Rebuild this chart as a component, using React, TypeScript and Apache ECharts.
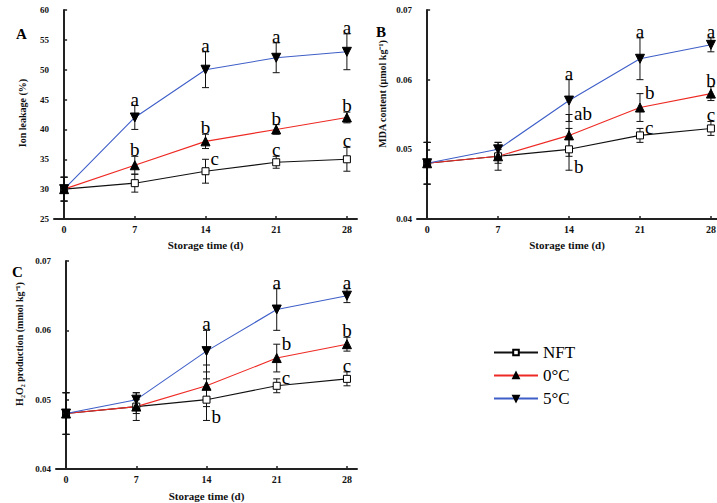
import React, { useEffect, useRef } from "react";
import * as echarts from "echarts";

const days = [0, 7, 14, 21, 28];

// Panel A: Ion leakage (%)
const ionNFT = [30, 31, 33, 34.5, 35];
const ionNFTErr = [2, 1.5, 2, 1, 2];
const ion0 = [30, 34, 38, 40, 42];
const ion0Err = [2, 1.5, 1.2, 0.8, 0.9];
const ion5 = [30, 42, 50, 52, 53];
const ion5Err = [2, 2, 3, 2.5, 3];
const ionLetNFT = ["", "", "c", "c", "c"];
const ionLet0 = ["", "b", "b", "b", "b"];
const ionLet5 = ["", "a", "a", "a", "a"];

// Panel B: MDA content
const mdaNFT = [0.048, 0.049, 0.05, 0.052, 0.053];
const mdaNFTErr = [0.003, 0.002, 0.003, 0.001, 0.001];
const mda0 = [0.048, 0.049, 0.052, 0.056, 0.058];
const mda0Err = [0.003, 0.001, 0.003, 0.002, 0.001];
const mda5 = [0.048, 0.05, 0.057, 0.063, 0.065];
const mda5Err = [0.003, 0.001, 0.003, 0.003, 0.001];
const mdaLetNFT = ["", "", "b", "c", "c"];
const mdaLet0 = ["", "", "ab", "b", "b"];
const mdaLet5 = ["", "", "a", "a", "a"];

// Panel C: H2O2 production
const h2o2NFT = [0.048, 0.049, 0.05, 0.052, 0.053];
const h2o2NFTErr = [0.003, 0.002, 0.003, 0.001, 0.001];
const h2o20 = [0.048, 0.049, 0.052, 0.056, 0.058];
const h2o20Err = [0.003, 0.001, 0.003, 0.002, 0.001];
const h2o25 = [0.048, 0.05, 0.057, 0.063, 0.065];
const h2o25Err = [0.003, 0.001, 0.003, 0.003, 0.001];
const h2o2LetNFT = ["", "", "b", "c", "c"];
const h2o2Let0 = ["", "", "", "b", "b"];
const h2o2Let5 = ["", "", "a", "a", "a"];

const xTicks = [0, 7, 14, 21, 28];
const seriesNames = ["NFT", "0°C", "5°C"];

// letter placement (style): top / rt = right at top cap / rb = right near bottom cap
const sideA_NFT = ["top", "top", "rt", "top", "top"];
const sideAll = ["top", "top", "top", "top", "top"];
const sideB_NFT = ["top", "top", "rb", "rt", "top"];
const sideB_0 = ["top", "top", "rt", "rt", "top"];

const SERIF = "Liberation Serif";

function errRender(letters: string[], sides: string[]) {
  return (params: any, api: any) => {
    const i = params.dataIndex;
    const x = api.value(0);
    const y = api.value(1);
    const e = api.value(2);
    const p = api.coord([x, y]);
    const t = api.coord([x, y + e]);
    const b = api.coord([x, y - e]);
    const cap = 3.5;
    const st = { stroke: "#111", lineWidth: 1 };
    const children: any[] = [
      { type: "line", shape: { x1: p[0], y1: t[1], x2: p[0], y2: b[1] }, style: st },
      { type: "line", shape: { x1: p[0] - cap, y1: t[1], x2: p[0] + cap, y2: t[1] }, style: st },
      { type: "line", shape: { x1: p[0] - cap, y1: b[1], x2: p[0] + cap, y2: b[1] }, style: st },
    ];
    const txt = letters[i];
    if (txt) {
      const side = sides[i];
      let tx = p[0];
      let ty = t[1] + 3;
      let align = "center";
      let va = "bottom";
      if (side === "rt") {
        tx = p[0] + 5;
        ty = t[1] - 1;
        align = "left";
        va = "middle";
      } else if (side === "rb") {
        tx = p[0] + 5;
        ty = b[1] - 4;
        align = "left";
        va = "middle";
      }
      children.push({
        type: "text",
        x: tx,
        y: ty,
        style: {
          text: txt,
          align,
          verticalAlign: va,
          fontSize: 19,
          fontFamily: SERIF,
          fill: "#000",
        },
      });
    }
    return { type: "group", children };
  };
}

const lineStyles = [
  { color: "#111", symbol: "rect", size: 7, rotate: 0, fill: "#fff" },
  { color: "#ee2a24", symbol: "triangle", size: 9, rotate: 0, fill: "#000" },
  { color: "#3f5fc8", symbol: "triangle", size: 9, rotate: 180, fill: "#000" },
];

function panelSeries(
  idx: number,
  vals: number[][],
  errs: number[][],
  letters: string[][],
  sides: string[][]
) {
  const out: any[] = [];
  vals.forEach((v, k) => {
    out.push({
      type: "custom",
      xAxisIndex: idx,
      yAxisIndex: idx,
      z: 1,
      renderItem: errRender(letters[k], sides[k]),
      data: days.map((d, i) => [d, v[i], errs[k][i]]),
      silent: true,
    });
  });
  vals.forEach((v, k) => {
    const s = lineStyles[k];
    out.push({
      type: "line",
      name: seriesNames[k],
      xAxisIndex: idx,
      yAxisIndex: idx,
      z: 3,
      data: days.map((d, i) => [d, v[i]]),
      symbol: s.symbol,
      symbolSize: s.size,
      symbolRotate: s.rotate,
      lineStyle: { color: s.color, width: 1.1 },
      itemStyle: { color: s.fill, borderColor: "#000", borderWidth: 1 },
    });
  });
  return out;
}

function xAxisCfg(idx: number, min: number, max: number, gap: number) {
  return {
    type: "value",
    gridIndex: idx,
    min,
    max,
    name: "Storage time (d)",
    nameLocation: "middle",
    nameGap: gap,
    nameTextStyle: { fontFamily: SERIF, fontWeight: "bold", fontSize: 11, color: "#111" },
    axisLine: { lineStyle: { color: "#222", width: 2 } },
    axisTick: { inside: true, length: 3, customValues: xTicks, lineStyle: { color: "#222", width: 1.5 } },
    axisLabel: {
      customValues: xTicks,
      margin: 5,
      fontFamily: SERIF,
      fontWeight: "bold",
      fontSize: 10,
      color: "#111",
    },
    splitLine: { show: false },
  };
}

function yAxisCfg(idx: number, min: number, max: number, interval: number, decimals: number) {
  return {
    type: "value",
    gridIndex: idx,
    min,
    max,
    interval,
    axisLine: { show: true, lineStyle: { color: "#222", width: 2 } },
    axisTick: { show: true, inside: true, length: 3, lineStyle: { color: "#222", width: 1.5 } },
    axisLabel: {
      margin: 5,
      fontFamily: SERIF,
      fontWeight: "bold",
      fontSize: 9,
      color: "#111",
      formatter: (v: number) => v.toFixed(decimals),
    },
    splitLine: { show: false },
  };
}

export default function App() {
  const ref = useRef<HTMLDivElement>(null);
  useEffect(() => {
    if (!ref.current) return;
    const chart = echarts.init(ref.current, undefined, { renderer: "svg" });
    const option: any = {
      animation: false,
      backgroundColor: "#fff",
      grid: [
        { left: 54, top: 10, right: 360, bottom: 284, outerBoundsMode: "none", containLabel: false },
        { left: 417, top: 10, right: 0, bottom: 284, outerBoundsMode: "none", containLabel: false },
        { left: 56, top: 261, right: 360, bottom: 34, outerBoundsMode: "none", containLabel: false },
      ],
      xAxis: [xAxisCfg(0, -1, 29, 20), xAxisCfg(1, -1, 28.6, 20), xAxisCfg(2, -1, 29, 21)],
      yAxis: [
        yAxisCfg(0, 25, 60, 5, 0),
        yAxisCfg(1, 0.04, 0.07, 0.01, 2),
        yAxisCfg(2, 0.04, 0.07, 0.01, 2),
      ],
      legend: {
        orient: "vertical",
        left: 488,
        top: 339,
        itemWidth: 44,
        itemHeight: 7,
        itemGap: 6,
        textStyle: { fontFamily: SERIF, fontSize: 17, color: "#000" },
        data: seriesNames,
      },
      graphic: [
        { type: "text", left: 16, top: 26, style: { text: "A", fontFamily: SERIF, fontWeight: "bold", fontSize: 15, fill: "#000" } },
        { type: "text", left: 376, top: 24, style: { text: "B", fontFamily: SERIF, fontWeight: "bold", fontSize: 15, fill: "#000" } },
        { type: "text", left: 12, top: 264, style: { text: "C", fontFamily: SERIF, fontWeight: "bold", fontSize: 15, fill: "#000" } },
        {
          type: "text",
          x: 22,
          y: 113,
          rotation: Math.PI / 2,
          style: { text: "Ion leakage (%)", align: "center", verticalAlign: "middle", fontFamily: SERIF, fontWeight: "bold", fontSize: 10, fill: "#111" },
        },
        {
          type: "text",
          x: 382,
          y: 94,
          rotation: Math.PI / 2,
          style: { text: "MDA content (μmol kg⁻¹)", align: "center", verticalAlign: "middle", fontFamily: SERIF, fontWeight: "bold", fontSize: 10, fill: "#111" },
        },
        {
          type: "text",
          x: 19,
          y: 344,
          rotation: Math.PI / 2,
          style: { text: "H₂O₂ production (mmol kg⁻¹)", align: "center", verticalAlign: "middle", fontFamily: SERIF, fontWeight: "bold", fontSize: 10, fill: "#111" },
        },
      ],
      series: [
        ...panelSeries(0, [ionNFT, ion0, ion5], [ionNFTErr, ion0Err, ion5Err], [ionLetNFT, ionLet0, ionLet5], [sideA_NFT, sideAll, sideAll]),
        ...panelSeries(1, [mdaNFT, mda0, mda5], [mdaNFTErr, mda0Err, mda5Err], [mdaLetNFT, mdaLet0, mdaLet5], [sideB_NFT, sideB_0, sideAll]),
        ...panelSeries(2, [h2o2NFT, h2o20, h2o25], [h2o2NFTErr, h2o20Err, h2o25Err], [h2o2LetNFT, h2o2Let0, h2o2Let5], [sideB_NFT, sideB_0, sideAll]),
      ],
    };
    chart.setOption(option);
    return () => chart.dispose();
  }, []);
  return <div ref={ref} style={{ width: 717, height: 503, position: "absolute", left: 0, top: 0 }} />;
}
